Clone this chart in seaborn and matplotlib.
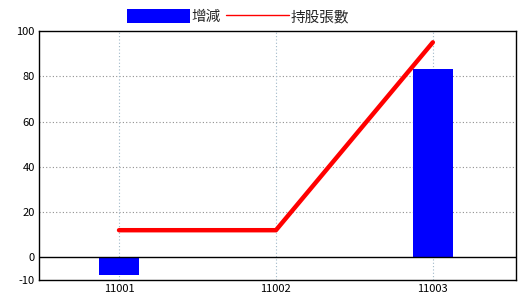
import matplotlib
matplotlib.use("Agg")
import matplotlib.pyplot as plt
from matplotlib.patches import Patch
from matplotlib.lines import Line2D
import seaborn as sns
import pandas as pd

categories = ["11001", "11002", "11003"]
change_values = [-8, 0, 83]
holding_values = [12, 12, 95]
y_ticks = [-10, 0, 20, 40, 60, 80, 100]

sns.set_style("white")
plt.rcParams['font.family'] = ['Noto Sans CJK TC', 'DejaVu Sans']

df = pd.DataFrame({"cat": categories, "change": change_values, "hold": holding_values})

fig = plt.figure(figsize=(5.2, 3.0), dpi=100)
ax = fig.add_axes([39/520, 20/300, 477/520, 249/300])

sns.barplot(data=df, x="cat", y="change", order=categories, color="#0000ff",
            saturation=1, width=0.255, ax=ax, zorder=3, linewidth=0)
sns.pointplot(data=df, x="cat", y="hold", order=categories, color="#ff0000",
              markers="", linewidth=3.2, ax=ax, zorder=4)
for l in ax.lines:
    l.set_solid_capstyle("round")
    l.set_solid_joinstyle("round")

ax.set_xlim(-0.51, 2.53)
ax.set_ylim(-10, 100)
ax.set_yticks(y_ticks)
ax.set_yticklabels([str(v) for v in y_ticks])
ax.set_xlabel("")
ax.set_ylabel("")
ax.tick_params(axis="both", length=0, labelsize=8, colors="black", pad=3)

for v in [20, 40, 60, 80]:
    ax.axhline(v, color="#909090", lw=0.8, ls=(0, (1, 2)), zorder=1)
for i in range(len(categories)):
    ax.axvline(i, color="#9fb8c8", lw=0.8, ls=(0, (1, 2)), zorder=1)
ax.axhline(0, color="black", lw=1, zorder=5)

for s in ax.spines.values():
    s.set_color("black")
    s.set_linewidth(1)
    s.set_visible(True)

handles = [Patch(facecolor="#0000ff", edgecolor="none"),
           Line2D([0], [0], color="#ff0000", lw=1)]
fig.legend(handles, ["增減", "持股張數"], loc="center", bbox_to_anchor=(0.458, 0.945),
           ncol=2, frameon=False, fontsize=10.5, handlelength=4.3, handleheight=1.15,
           handletextpad=0.15, columnspacing=0.35, borderaxespad=0)

fig.savefig("out.png", dpi=100)
